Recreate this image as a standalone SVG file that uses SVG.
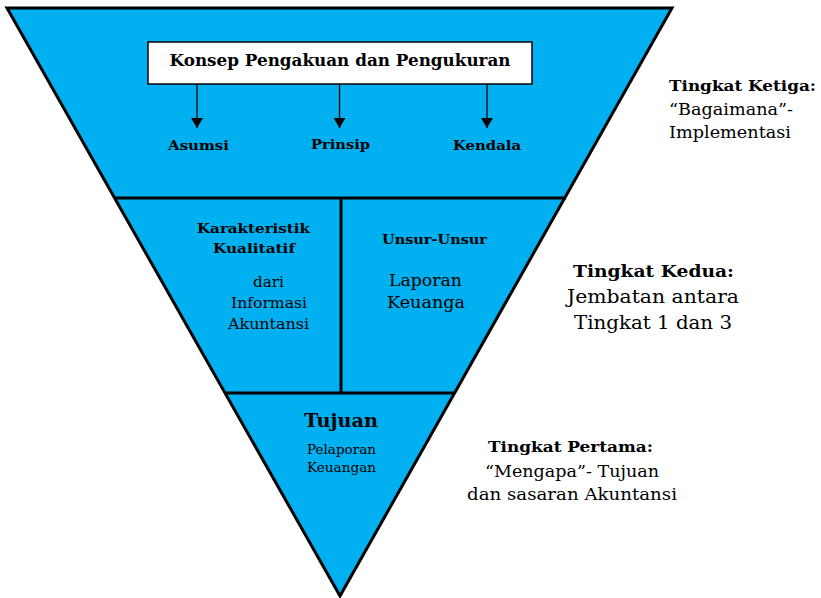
<svg xmlns="http://www.w3.org/2000/svg" width="821" height="598" viewBox="0 0 821 598">
  <defs>
    <marker id="arrowhead" viewBox="0 0 10 12" refX="10" refY="6" markerWidth="10" markerHeight="12" markerUnits="userSpaceOnUse" orient="auto">
      <path d="M0,0 L10,6 L0,12 Z" fill="#000"/>
    </marker>
    <style>
      text { font-family: "DejaVu Serif", "Liberation Serif", serif; fill: #000; }
      .b { font-weight: bold; }
      .mid { text-anchor: middle; }
      .sep { stroke: #000; stroke-width: 3; fill: none; }
      .conn { stroke: #000; stroke-width: 1.3; fill: none; marker-end: url(#arrowhead); }
    </style>
  </defs>
  <rect width="821" height="598" fill="#fff"/>

  <!-- inverted pyramid -->
  <g id="pyramid">
    <polygon points="7,8 672,8 340,596" fill="#00B0F0" stroke="#000" stroke-width="3" stroke-linejoin="miter"/>
    <line class="sep" x1="114" y1="198" x2="566" y2="198"/>
    <line class="sep" x1="225" y1="393" x2="455" y2="393"/>
    <line class="sep" x1="341" y1="198" x2="341" y2="393"/>
  </g>

  <!-- level three -->
  <g id="konsep">
    <rect x="148" y="42" width="384" height="42" fill="#fff" stroke="#000" stroke-width="1.5"/>
    <text class="b mid" x="340" y="66" font-size="16.5" textLength="341" lengthAdjust="spacingAndGlyphs">Konsep Pengakuan dan Pengukuran</text>
  </g>
  <g id="asumsi"><text class="b mid" x="198.5" y="150" font-size="13.5" textLength="61" lengthAdjust="spacingAndGlyphs">Asumsi</text></g>
  <g id="prinsip"><text class="b mid" x="340.5" y="149" font-size="13.5" textLength="59" lengthAdjust="spacingAndGlyphs">Prinsip</text></g>
  <g id="kendala"><text class="b mid" x="487" y="150" font-size="13.5" textLength="68" lengthAdjust="spacingAndGlyphs">Kendala</text></g>

  <g id="connectors">
    <line class="conn" x1="197" y1="84" x2="197" y2="128"/>
    <line class="conn" x1="339.5" y1="84" x2="339.5" y2="128"/>
    <line class="conn" x1="487" y1="84" x2="487" y2="128"/>
  </g>

  <!-- level two -->
  <g id="karakteristik">
    <text class="b mid" x="253.5" y="233" font-size="13.5" textLength="113" lengthAdjust="spacingAndGlyphs">Karakteristik</text>
    <text class="b mid" x="254" y="253" font-size="13.5" textLength="82" lengthAdjust="spacingAndGlyphs">Kualitatif</text>
    <text class="mid" x="268.5" y="287" font-size="15" textLength="31" lengthAdjust="spacingAndGlyphs">dari</text>
    <text class="mid" x="269" y="308" font-size="15" textLength="76" lengthAdjust="spacingAndGlyphs">Informasi</text>
    <text class="mid" x="268.5" y="329" font-size="15" textLength="81" lengthAdjust="spacingAndGlyphs">Akuntansi</text>
  </g>
  <g id="unsur">
    <text class="b mid" x="434.5" y="244" font-size="13.5" textLength="105" lengthAdjust="spacingAndGlyphs">Unsur-Unsur</text>
    <text class="mid" x="425.5" y="286" font-size="16.5" textLength="73" lengthAdjust="spacingAndGlyphs">Laporan</text>
    <text class="mid" x="426" y="308" font-size="16.5" textLength="78" lengthAdjust="spacingAndGlyphs">Keuanga</text>
  </g>

  <!-- level one -->
  <g id="tujuan">
    <text class="b mid" x="341" y="427" font-size="18" textLength="74" lengthAdjust="spacingAndGlyphs">Tujuan</text>
    <text class="mid" x="341.5" y="454" font-size="12.5" textLength="69" lengthAdjust="spacingAndGlyphs">Pelaporan</text>
    <text class="mid" x="341.5" y="472" font-size="12.5" textLength="69" lengthAdjust="spacingAndGlyphs">Keuangan</text>
  </g>

  <!-- side notes -->
  <g id="tingkat-ketiga">
    <text class="b" x="669" y="91" font-size="15.5" textLength="147" lengthAdjust="spacingAndGlyphs">Tingkat Ketiga:</text>
    <text x="669" y="115" font-size="17" textLength="124" lengthAdjust="spacingAndGlyphs">“Bagaimana”-</text>
    <text x="669" y="138" font-size="17" textLength="122" lengthAdjust="spacingAndGlyphs">Implementasi</text>
  </g>
  <g id="tingkat-kedua">
    <text class="b mid" x="653.5" y="277" font-size="16.5" textLength="161" lengthAdjust="spacingAndGlyphs">Tingkat Kedua:</text>
    <text class="mid" x="653" y="303" font-size="19" textLength="172" lengthAdjust="spacingAndGlyphs">Jembatan antara</text>
    <text class="mid" x="653" y="329" font-size="19" textLength="158" lengthAdjust="spacingAndGlyphs">Tingkat 1 dan 3</text>
  </g>
  <g id="tingkat-pertama">
    <text class="b mid" x="570.5" y="452" font-size="15.5" textLength="165" lengthAdjust="spacingAndGlyphs">Tingkat Pertama:</text>
    <text class="mid" x="572" y="477" font-size="17" textLength="174" lengthAdjust="spacingAndGlyphs">“Mengapa”- Tujuan</text>
    <text class="mid" x="572" y="500" font-size="17" textLength="210" lengthAdjust="spacingAndGlyphs">dan sasaran Akuntansi</text>
  </g>
</svg>
